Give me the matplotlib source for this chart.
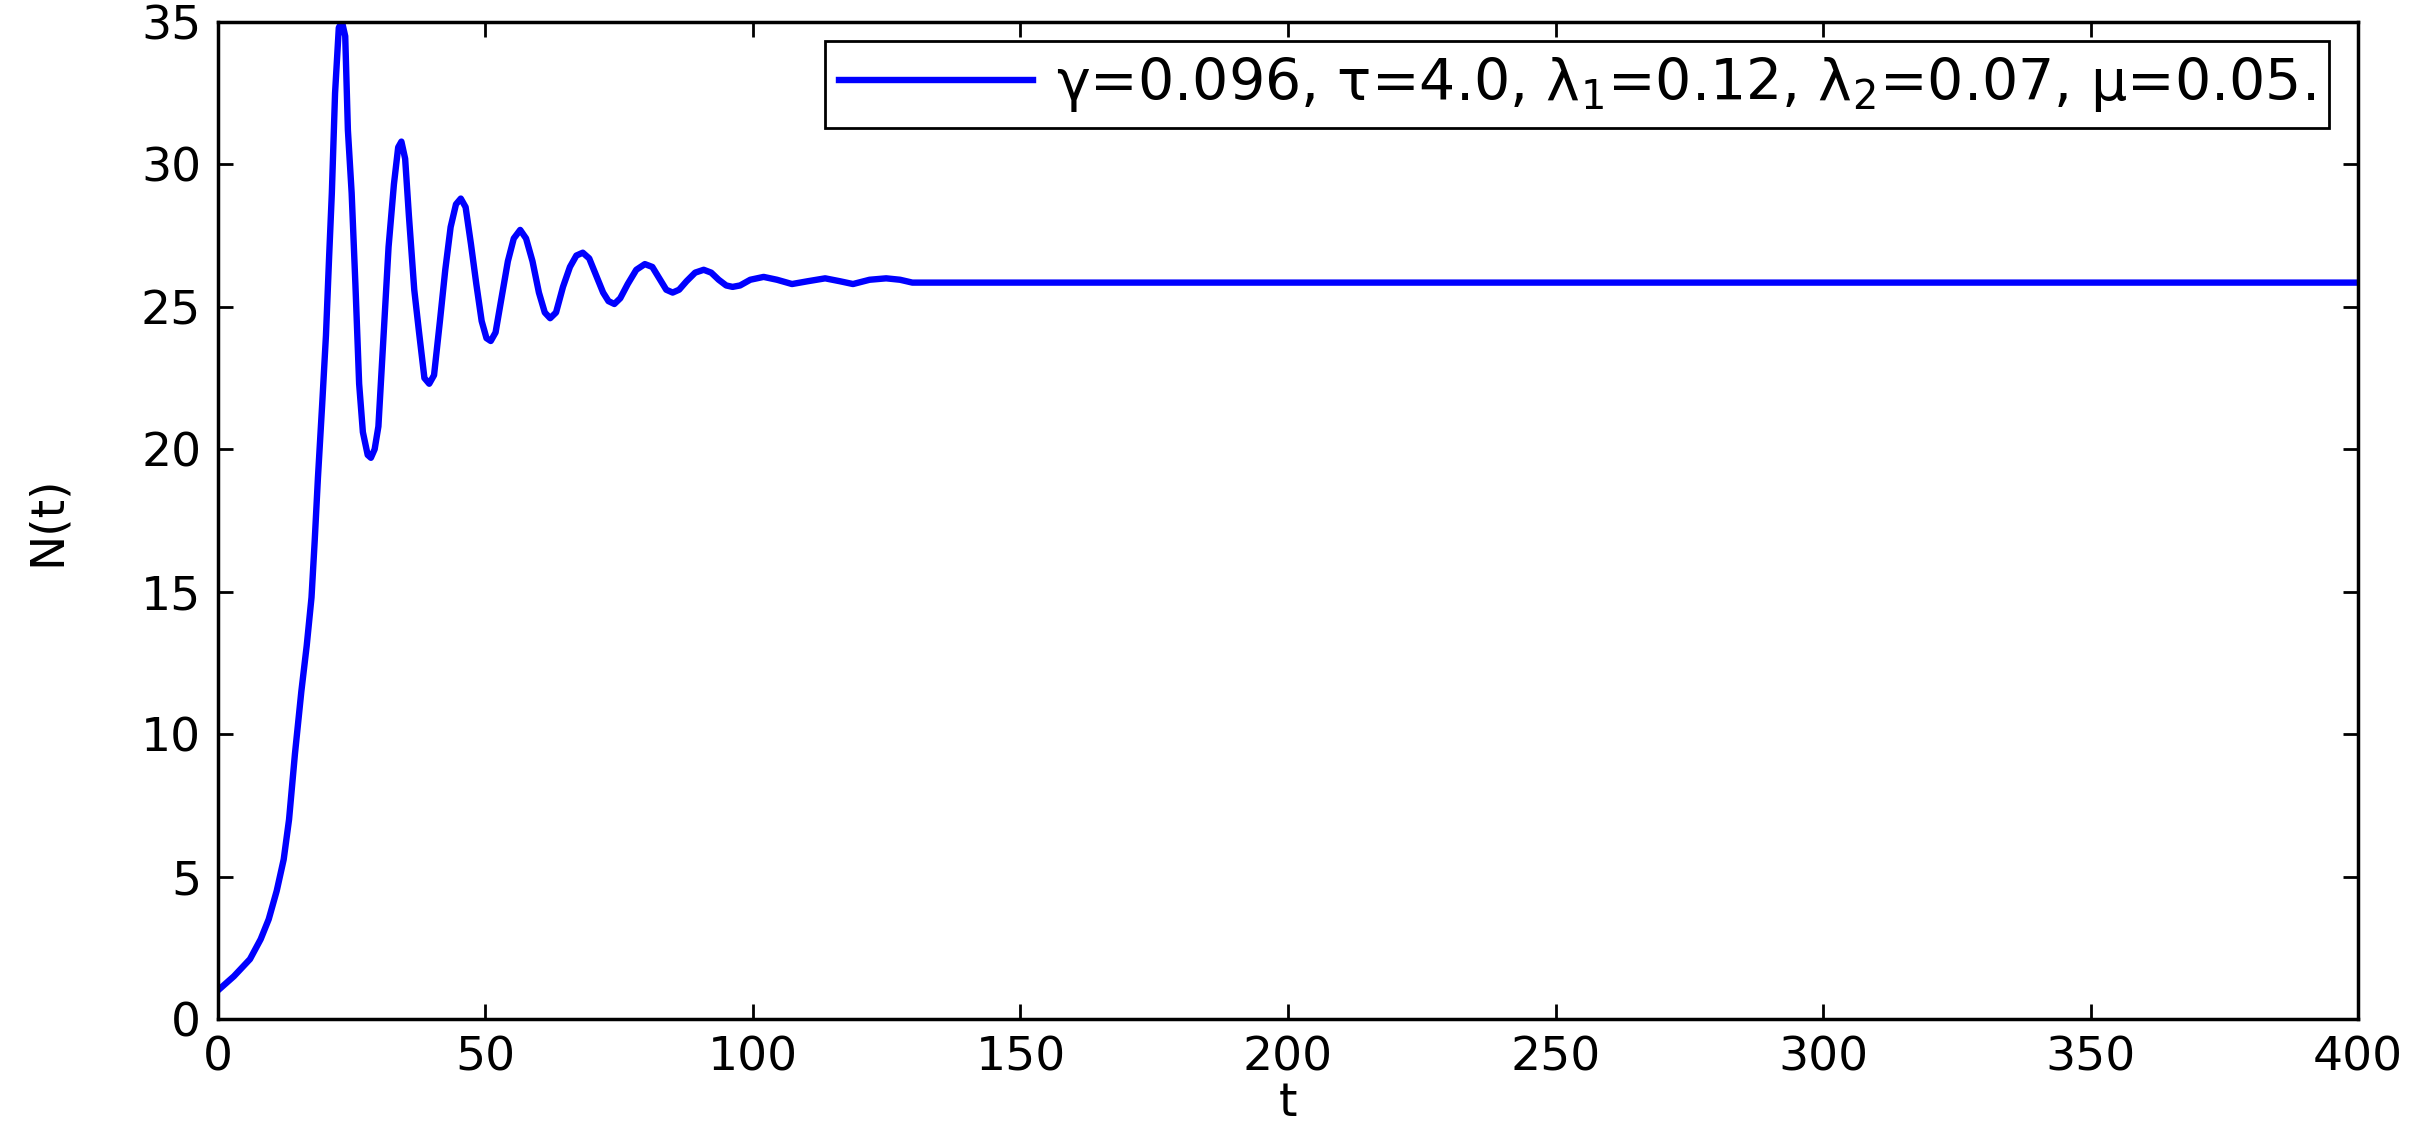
import matplotlib
matplotlib.use("Agg")
import matplotlib.pyplot as plt

# N(t)
t = [0, 3, 6, 8, 9.5, 11, 12.3, 13.3, 14.4, 15.6, 16.6, 17.5, 18.1, 18.7, 19.5,
     20.2, 20.8, 21.3, 21.9, 22.6, 23.2, 23.8, 24.3, 25.0, 25.7, 26.4, 27.1, 28.0,
     28.6, 29.3, 30.0, 31.0, 31.9, 32.9, 33.7, 34.3, 35.0, 35.7, 36.7, 37.6, 38.6,
     39.5, 40.4, 41.5, 42.5, 43.5, 44.5, 45.4, 46.3, 47.3, 48.3, 49.3, 50.2, 51.0,
     51.9, 53.0, 54.2, 55.3, 56.5, 57.6, 58.8, 60.0, 61.1, 62.1, 63.2, 64.5, 65.8,
     67.0, 68.2, 69.4, 70.7, 72.0, 73.0, 74.1, 75.2, 76.6, 78.2, 79.8, 81.2, 82.5,
     83.8, 85.0, 86.2, 87.6, 89.2, 90.8, 92.2, 93.6, 95.0, 96.2, 97.6, 99.5, 102,
     104.5, 107.3, 110.3, 113.5, 116.2, 118.7, 121.8, 124.9, 127.5, 129.8, 400]
N = [1.0, 1.5, 2.1, 2.8, 3.5, 4.5, 5.6, 7.0, 9.3, 11.5, 13.1, 14.8, 16.8, 19.0, 21.6,
     24.0, 26.8, 29.0, 32.5, 34.8, 35.0, 34.5, 31.2, 29.0, 25.8, 22.3, 20.6, 19.8,
     19.7, 20.0, 20.8, 24.1, 27.1, 29.3, 30.6, 30.8, 30.2, 28.2, 25.6, 24.1, 22.5,
     22.3, 22.6, 24.5, 26.3, 27.8, 28.6, 28.8, 28.5, 27.2, 25.8, 24.5, 23.9, 23.8,
     24.1, 25.3, 26.6, 27.4, 27.7, 27.4, 26.6, 25.5, 24.8, 24.6, 24.8, 25.7, 26.4,
     26.8, 26.9, 26.7, 26.1, 25.5, 25.2, 25.1, 25.3, 25.8, 26.3, 26.5, 26.4, 26.0,
     25.6, 25.5, 25.6, 25.9, 26.2, 26.3, 26.2, 25.95, 25.75, 25.7, 25.75, 25.95, 26.05,
     25.95, 25.8, 25.9, 26.0, 25.9, 25.8, 25.95, 26.0, 25.95, 25.85, 25.85]

label = "γ=0.096, τ=4.0, λ$_1$=0.12, λ$_2$=0.07, μ=0.05."
xticks = list(range(0, 401, 50))
yticks = list(range(0, 36, 5))

plt.rcParams['font.family'] = ['DejaVu Sans']
plt.rcParams['mathtext.fontset'] = 'dejavusans'

fig = plt.figure(figsize=(24.29, 11.38), dpi=100)
ax = fig.add_axes([0.0897, 0.1046, 0.8811, 0.8761])

ax.plot(t, N, color="#0000ff", linewidth=4.6, label=label)

ax.set_xlim(0, 400)
ax.set_ylim(0, 35)
ax.set_xticks(xticks)
ax.set_yticks(yticks)
ax.tick_params(direction="in", length=10.8, width=2, top=True, right=True,
               labelsize=34, pad=12, colors="black")
for s in ax.spines.values():
    s.set_linewidth(2.5)
    s.set_color("black")

ax.set_xlabel("t", fontsize=34)
ax.set_ylabel("N(t)", fontsize=34)
ax.xaxis.set_label_coords(0.5, -0.062)
ax.yaxis.set_label_coords(-0.069, 0.5)

leg = ax.legend(loc="upper right", bbox_to_anchor=(0.9864, 0.981), borderaxespad=0,
                fontsize=41, handlelength=3.4, handletextpad=0.4, borderpad=0.25,
                fancybox=False, framealpha=1)
leg.get_frame().set_edgecolor("black")
leg.get_frame().set_linewidth(2)

fig.savefig("out.png", dpi=100)
